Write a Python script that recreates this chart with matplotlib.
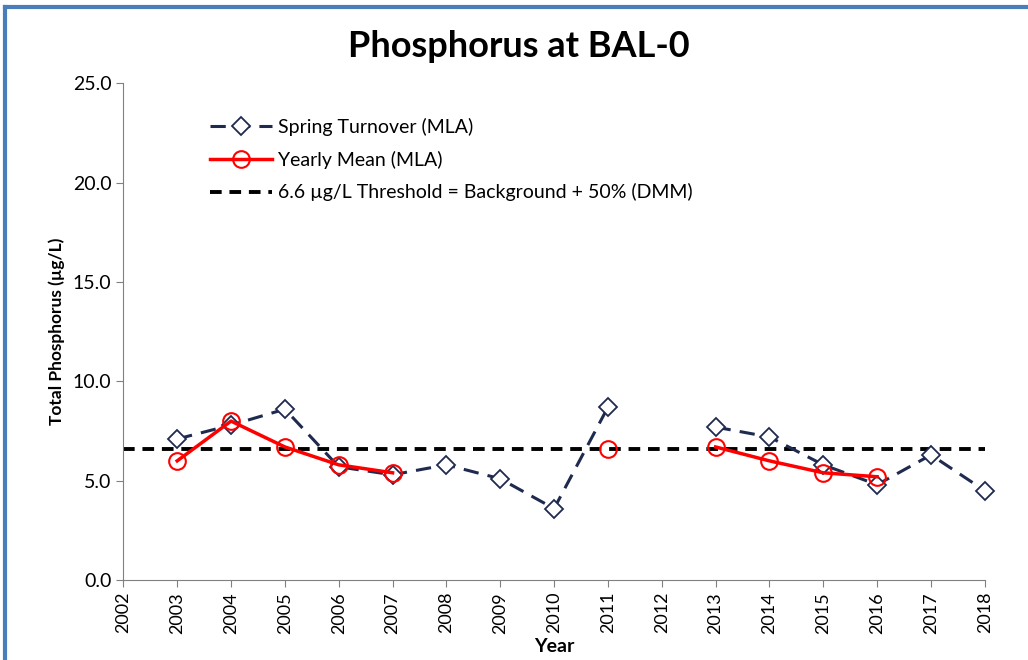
import numpy as np
import matplotlib.pyplot as plt
from matplotlib.lines import Line2D

plt.rcParams['font.family'] = ['Lato', 'DejaVu Sans']

years = list(range(2002, 2019))
spring = [np.nan, 7.1, 7.8, 8.6, 5.7, 5.3, 5.8, 5.1, 3.6, 8.7, np.nan,
          7.7, 7.2, 5.8, 4.8, 6.3, 4.5]
mean = [np.nan, 6.0, 8.0, 6.7, 5.8, 5.4, np.nan, np.nan, np.nan, 6.6, np.nan,
        6.7, 6.0, 5.4, 5.2, np.nan, np.nan]
threshold = 6.6

fig = plt.figure(figsize=(10.28, 6.6), dpi=100)
ax = fig.add_axes([0.12, 0.121, 0.838, 0.753])

ax.plot(years, spring, color='#1f2a4f', linestyle=(0, (5, 3)), linewidth=2.2,
        marker='D', markersize=9, markerfacecolor='white', markeredgecolor='#1f2a4f',
        markeredgewidth=1.3, label='Spring Turnover (MLA)', zorder=3, clip_on=False)
ax.plot(years, mean, color='#ff0000', linewidth=2.5, marker='o', markersize=12,
        markerfacecolor='none', markeredgecolor='#ff0000', markeredgewidth=1.5,
        label='Yearly Mean (MLA)', zorder=4)
ax.plot([years[0], years[-1]], [threshold, threshold], color='black', linewidth=2.8,
        linestyle=(0, (3, 2)), label='6.6 µg/L Threshold = Background + 50% (DMM)', zorder=2)

ax.set_xlim(2002, 2018)
ax.set_ylim(0, 25)
ax.set_xticks(years)
ax.set_xticklabels([str(y) for y in years], rotation=90, fontsize=13)
ax.set_yticks(np.arange(0, 26, 5))
ax.set_yticklabels([f'{v:.1f}' for v in np.arange(0, 26, 5)], fontsize=14)
ax.tick_params(direction='out', length=5, color='#808080')
ax.spines['top'].set_visible(False)
ax.spines['right'].set_visible(False)
ax.spines['left'].set_color('#808080')
ax.spines['bottom'].set_color('#808080')

ax.set_xlabel('Year', fontsize=14, fontweight='bold', labelpad=3)
ax.set_ylabel('Total Phosphorus (µg/L)', fontsize=12.5, fontweight='bold', labelpad=6)
fig.text(0.505, 0.93, 'Phosphorus at BAL-0', fontsize=26, fontweight='bold',
         ha='center', va='center')

ax.legend(loc='upper left', bbox_to_anchor=(0.08, 0.965), frameon=False, fontsize=14,
          handlelength=3.2, labelspacing=0.75, handletextpad=0.3)

# blue outer frame (top and left edges)
fig.lines.append(Line2D([0.005, 0.005], [0.0, 0.99], transform=fig.transFigure,
                        color='#4a7ebb', linewidth=3))
fig.lines.append(Line2D([0.005, 1.0], [0.99, 0.99], transform=fig.transFigure,
                        color='#4a7ebb', linewidth=3))

fig.savefig('out.png', dpi=100)
